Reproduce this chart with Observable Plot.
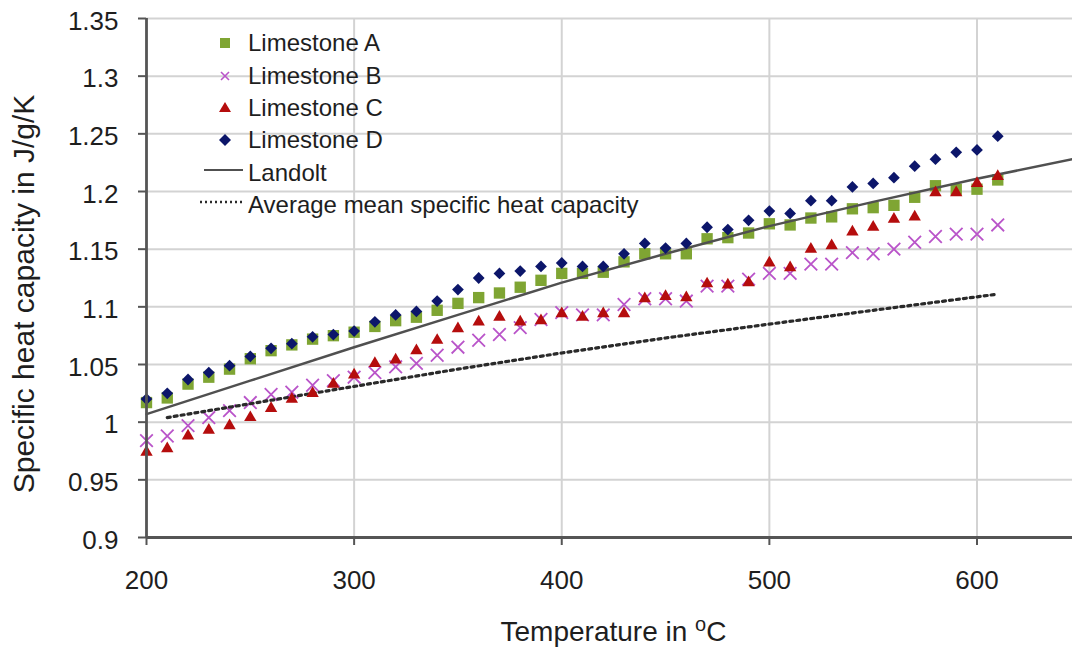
<!DOCTYPE html>
<html><head><meta charset="utf-8">
<script src="https://cdn.jsdelivr.net/npm/d3@7"></script>
<script src="https://cdn.jsdelivr.net/npm/@observablehq/plot@0.6"></script>
<style>
html,body{margin:0;padding:0;background:#fff;}
#wrap{position:relative;width:1072px;height:647px;font-family:"Liberation Sans",Arial,sans-serif;}
#legend{position:absolute;left:200px;top:27px;}
.row{display:flex;align-items:center;height:32.4px;font-size:24px;color:#1e1e1e;white-space:nowrap}
.row svg{width:48px;height:32px;flex:none;display:block}
</style></head><body><div id="wrap"></div>
<script>
const temperatures = [200,210,220,230,240,250,260,270,280,290,300,310,320,330,340,350,360,370,380,390,400,410,420,430,440,450,460,470,480,490,500,510,520,530,540,550,560,570,580,590,600,610];
const limestoneA = [1.017,1.021,1.033,1.039,1.046,1.055,1.062,1.067,1.072,1.075,1.078,1.083,1.088,1.091,1.097,1.103,1.108,1.112,1.117,1.123,1.129,1.129,1.130,1.139,1.146,1.146,1.146,1.159,1.160,1.164,1.172,1.171,1.177,1.178,1.185,1.186,1.188,1.195,1.205,1.202,1.202,1.210];
const limestoneB = [0.984,0.988,0.997,1.004,1.010,1.017,1.024,1.026,1.032,1.036,1.039,1.043,1.048,1.051,1.058,1.065,1.071,1.076,1.082,1.089,1.095,1.093,1.093,1.102,1.107,1.107,1.105,1.118,1.118,1.124,1.129,1.129,1.137,1.137,1.147,1.146,1.150,1.156,1.161,1.163,1.163,1.171];
const limestoneC = [0.974,0.977,0.988,0.993,0.997,1.004,1.012,1.020,1.025,1.033,1.041,1.051,1.054,1.062,1.071,1.081,1.087,1.091,1.087,1.088,1.094,1.091,1.094,1.094,1.107,1.109,1.108,1.120,1.119,1.121,1.138,1.134,1.150,1.153,1.165,1.169,1.176,1.178,1.199,1.199,1.207,1.213];
const limestoneD = [1.020,1.025,1.037,1.043,1.049,1.057,1.064,1.068,1.074,1.076,1.079,1.087,1.093,1.096,1.105,1.115,1.125,1.129,1.131,1.135,1.138,1.135,1.135,1.146,1.155,1.151,1.155,1.169,1.167,1.175,1.183,1.181,1.192,1.192,1.204,1.207,1.212,1.222,1.228,1.234,1.236,1.248];
const landoltT = [200,250,300,350,400,450,500,550,600,646];
const landoltV = [1.007,1.036,1.065,1.093,1.121,1.146,1.170,1.191,1.211,1.228];
const averageT = [210,250,300,350,400,450,500,550,610];
const averageV = [1.004,1.016,1.031,1.046,1.060,1.073,1.085,1.097,1.111];
const xTicks = [200,300,400,500,600];
const yTicks = [0.9,0.95,1,1.05,1.1,1.15,1.2,1.25,1.3,1.35];
const yTickLabels = ["0.9","0.95","1","1.05","1.1","1.15","1.2","1.25","1.3","1.35"];
const seriesNames = ["Limestone A","Limestone B","Limestone C","Limestone D"];
const colors = ["#7fa533","#b954c9","#b50d0d","#0c166a"];

const pts = (vals) => temperatures.map((t,i)=>({t, v: vals[i]}));
const landolt = landoltT.map((t,i)=>({t, v: landoltV[i]}));
const average = averageT.map((t,i)=>({t, v: averageV[i]}));

const chart = Plot.plot({
  width:1072, height:647,
  marginLeft:146, marginRight:0, marginTop:18, marginBottom:110,
  style:{fontFamily:'"Liberation Sans", Arial, sans-serif', fontSize:"26px", color:"#1e1e1e", background:"#fff"},
  x:{domain:[200,646], label:null},
  y:{domain:[0.9,1.35], label:null},
  marks:[
    Plot.gridX(xTicks.slice(1), {stroke:"#d3d3d3", strokeOpacity:1, strokeWidth:2}),
    Plot.gridY(yTicks.slice(1), {stroke:"#d3d3d3", strokeOpacity:1, strokeWidth:2}),
    Plot.dot(pts(limestoneA), {x:"t", y:"v", symbol:"square", r:6.4, fill:colors[0]}),
    Plot.dot(pts(limestoneB), {x:"t", y:"v", symbol:"times", r:5.8, stroke:colors[1], strokeWidth:1.8}),
    Plot.line(landolt, {x:"t", y:"v", stroke:"#505050", strokeWidth:2.5}),
    Plot.line(average, {x:"t", y:"v", stroke:"#2a2a2a", strokeWidth:3.2, strokeDasharray:"3,4"}),
    Plot.dot(pts(limestoneC), {x:"t", y:"v", symbol:"triangle2", r:5.9, fill:colors[2]}),
    Plot.dot(pts(limestoneD), {x:"t", y:"v", symbol:"diamond2", r:5.3, fill:colors[3]}),
    Plot.ruleX([200], {stroke:"#555", strokeWidth:2.8}),
    Plot.ruleY([0.9], {stroke:"#555", strokeWidth:2.8}),
    Plot.axisY(yTicks, {tickSize:8, fill:null, label:null, stroke:"#555", strokeWidth:2}),
    Plot.text(yTicks, {y:d=>d, text:(d,i)=>yTickLabels[i], frameAnchor:"left", textAnchor:"end", dx:-28, dy:3, fontSize:26, fill:"#1e1e1e"}),
    Plot.axisX(xTicks, {tickSize:8, tickPadding:25, tickFormat:d=>String(d), label:null, stroke:"#555", strokeWidth:2, fill:"#1e1e1e", fontSize:26}),
    Plot.text(["Temperature in °C"], {text:d=>d, frameAnchor:"bottom", dx:4, dy:95, fontSize:28, lineAnchor:"middle", textAnchor:"middle", fill:"#1e1e1e"}),
    Plot.text(["Specific heat capacity in J/g/K"], {text:d=>d, frameAnchor:"left", rotate:-90, dx:-122, dy:16, fontSize:30, lineAnchor:"middle", textAnchor:"middle", fill:"#1e1e1e"})
  ]
});

d3.select(chart).selectAll("text").filter(function(){return this.textContent==="Temperature in °C";}).each(function(){
  const t = d3.select(this);
  t.text(null);
  t.append("tspan").text("Temperature in ");
  t.append("tspan").attr("font-size","20px").attr("dy","-10").text("o");
  t.append("tspan").attr("dy","10").text("C");
});

const wrap = document.getElementById("wrap");
wrap.appendChild(chart);

const legendSymbols = [
  `<rect x="20" y="11" width="10" height="10" fill="${colors[0]}"/>`,
  `<path d="M21 12L29 20M29 12L21 20" stroke="${colors[1]}" stroke-width="1.6"/>`,
  `<path d="M25 10L31 20L19 20Z" fill="${colors[2]}"/>`,
  `<path d="M25 10L31 16L25 22L19 16Z" fill="${colors[3]}"/>`,
  `<line x1="4" y1="13" x2="43" y2="13" stroke="#505050" stroke-width="2.2"/>`,
  `<line x1="0" y1="13" x2="43" y2="13" stroke="#2a2a2a" stroke-width="2.5" stroke-dasharray="2,3"/>`
];
const legendLabels = [...seriesNames, "Landolt", "Average mean specific heat capacity"];
const legend = document.createElement("div");
legend.id = "legend";
legend.innerHTML = legendLabels.map((l,i)=>`<div class="row"><svg viewBox="0 0 48 32">${legendSymbols[i]}</svg><span>${l}</span></div>`).join("");
wrap.appendChild(legend);
</script></body></html>
